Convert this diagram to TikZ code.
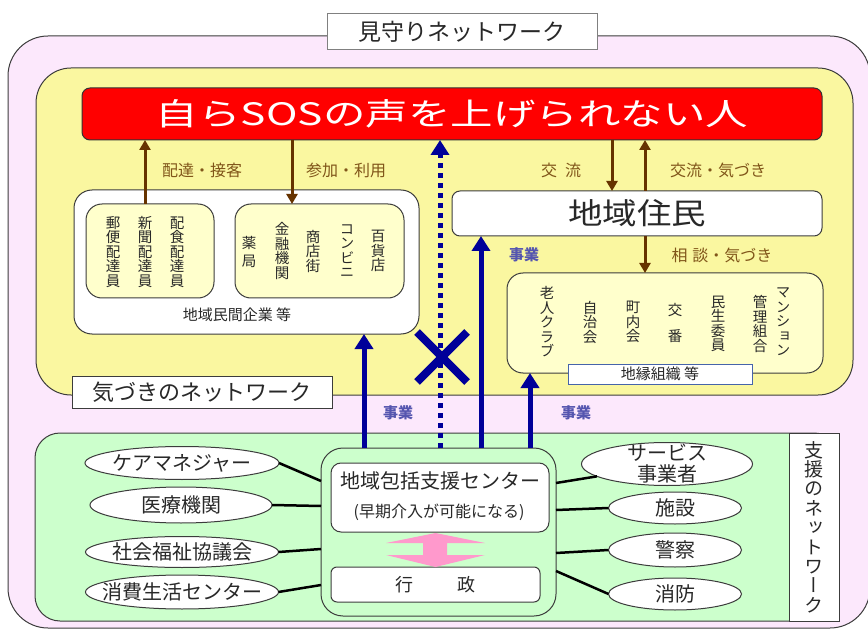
\documentclass[tikz,border=0pt]{standalone}
\usepackage{fontspec}
\usepackage{graphicx}
\setmainfont{Noto Sans CJK JP}
\newfontfamily\vfont[RawFeature=+vert]{Noto Sans CJK JP}
\usetikzlibrary{arrows.meta,shapes.geometric}
\newcommand{\myfs}[1]{\fontsize{#1}{#1}\selectfont}
\definecolor{pinkbg}{RGB}{252,232,252}
\definecolor{ylw}{RGB}{250,247,160}
\definecolor{lyel}{RGB}{255,255,204}
\definecolor{grn}{RGB}{204,255,204}
\definecolor{navy}{RGB}{0,0,153}
\definecolor{brn}{RGB}{102,51,0}
\definecolor{brntxt}{RGB}{128,85,25}
\definecolor{bluetxt}{RGB}{85,85,175}
\definecolor{pinkar}{RGB}{255,153,204}
\definecolor{txt}{RGB}{40,40,40}
\definecolor{edge}{RGB}{60,60,60}
\definecolor{bluegray}{RGB}{70,100,170}
\definecolor{myred}{RGB}{255,0,0}
\begin{document}
\begin{tikzpicture}[x=1pt,y=-1pt,
  every node/.style={inner sep=0pt, outer sep=0pt, text=txt},
  bx/.style={draw=edge, line width=1pt},
  vt/.style={font=\vfont\fontsize{14.5}{14.5}\selectfont, align=center},
  ell/.style={ellipse, draw=edge, fill=white, line width=1pt, font=\myfs{20}},
  brar/.style={draw=brn, line width=3pt, -{Triangle[width=11pt,length=10pt]}},
  blar/.style={draw=navy, line width=5pt, -{Triangle[width=18pt,length=15pt]}},
  conn/.style={draw=black, line width=2.5pt},
  brlbl/.style={font=\myfs{16}, text=brntxt},
  bllbl/.style={font=\bfseries\myfs{15}, text=bluetxt}]
\useasboundingbox (0,0) rectangle (868,631);
% outer
\node[bx, fill=pinkbg, rounded corners=40pt, minimum width=862pt, minimum height=592pt] (outer) at (439,332) {};
\node[draw=gray, line width=1pt, fill=white, minimum width=270pt, minimum height=36pt, font=\myfs{23}] (title) at (462,32) {見守りネットワーク};
% yellow network
\node[bx, fill=ylw, rounded corners=35pt, minimum width=817pt, minimum height=327pt] (yellow) at (444.5,231.5) {};
\node[bx, fill=myred, draw=black!80, rounded corners=8pt, minimum width=740pt, minimum height=52pt] (red) at (452,114) {\resizebox{592pt}{26pt}{\color{white}自らSOSの声を上げられない人}};
% private companies
\node[bx, fill=white, rounded corners=18pt, minimum width=345pt, minimum height=144pt] (minkan) at (246.5,262) {};
\node[font=\myfs{15}] (minkanlbl) at (237,315) {地域民間企業 等};
\node[bx, fill=lyel, rounded corners=16pt, minimum width=128pt, minimum height=94pt] (boxA) at (150,251) {};
\node[bx, fill=lyel, rounded corners=16pt, minimum width=169pt, minimum height=94pt] (boxB) at (319.5,251) {};
\node[vt] (yubin) at (113,252) {郵\\便\\配\\達\\員};
\node[vt] (shinbun) at (145,252) {新\\聞\\配\\達\\員};
\node[vt] (haishoku) at (177,252) {配\\食\\配\\達\\員};
\node[vt] (yakkyoku) at (249,252) {薬\\[3pt]局};
\node[vt] (kinyu) at (282,251) {金\\融\\機\\関};
\node[vt] (shoten) at (313,251) {商\\店\\街};
\node[vt] (konbini) at (347,251) {コ\\ン\\ビ\\ニ};
\node[vt] (hyakka) at (378,251) {百\\貨\\店};
% residents
\node[bx, fill=white, rounded corners=8pt, minimum width=370pt, minimum height=45pt] (juumin) at (637,213.5) {\resizebox{138pt}{25pt}{地域住民}};
\node[bx, fill=lyel, rounded corners=16pt, minimum width=316pt, minimum height=100pt] (chien) at (665,323) {};
\node[draw=bluegray, fill=white, line width=1pt, minimum width=184pt, minimum height=20pt, font=\myfs{15}] (chienlbl) at (660,374) {地縁組織 等};
\node[vt] (rojin) at (547,322) {老\\人\\ク\\ラ\\ブ};
\node[vt] (jichi) at (590,322) {自\\治\\会};
\node[vt] (chonai) at (633,322) {町\\内\\会};
\node[vt] (koban) at (675,323) {交\\[12pt]番};
\node[vt] (minsei) at (718,324) {民\\生\\委\\員};
\node[vt] (kanri) at (760,324) {管\\理\\組\\合};
\node[vt] (mansion) at (783,322) {マ\\ン\\シ\\ョ\\ン};
\node[bx, fill=white, minimum width=260pt, minimum height=32pt, font=\myfs{22}] (kizuki) at (202,392) {気づきのネットワーク};
% support network
\node[bx, fill=grn, rounded corners=25pt, minimum width=804pt, minimum height=188pt] (green) at (437,527) {};
\node[bx, fill=white, minimum width=50pt, minimum height=188pt, font=\vfont\fontsize{19}{19.4}\selectfont, align=center] (shien) at (814,527) {支\\援\\の\\ネ\\ッ\\ト\\ワ\\ー\\ク};
\node[bx, fill=grn, rounded corners=22pt, minimum width=235pt, minimum height=168pt] (houkatsu) at (438.5,532) {};
\node[bx, fill=white, rounded corners=10pt, minimum width=218pt, minimum height=69pt] (hkA) at (440,497.5) {};
\node[font=\myfs{20}] (hkt1) at (440,481) {地域包括支援センター};
\node[font=\myfs{16}] (hkt2) at (439,512) {(早期介入が可能になる)};
\node[bx, fill=white, rounded corners=6pt, minimum width=209pt, minimum height=35pt, font=\myfs{18}] (gyosei) at (435.5,584.5) {行\hspace{44pt}政};
\fill[pinkar] (435.5,533) -- (485,543) -- (447,543) -- (447,555) -- (485,555) -- (435.5,567) -- (386,555) -- (423,555) -- (423,543) -- (386,543) -- cycle;
% ellipses
\node[ell, minimum width=194pt, minimum height=33pt] (care) at (182,463) {\makebox[0pt]{ケアマネジャー}};
\node[ell, minimum width=182pt, minimum height=36pt] (iryo) at (181,505) {\makebox[0pt]{医療機関}};
\node[ell, minimum width=193pt, minimum height=31pt] (shakai) at (182,552) {\makebox[0pt]{社会福祉協議会}};
\node[ell, minimum width=193pt, minimum height=34pt] (shohi) at (182,592) {\makebox[0pt]{消費生活センター}};
\node[ell, minimum width=171pt, minimum height=43pt] (service) at (667,464) {};
\node[font=\fontsize{20}{21}\selectfont, align=center] (servicet) at (667,464) {サービス\\事業者};
\node[ell, minimum width=133pt, minimum height=32pt] (shisetsu) at (675,508) {\makebox[0pt]{施設}};
\node[ell, minimum width=133pt, minimum height=34pt] (keisatsu) at (675,550) {\makebox[0pt]{警察}};
\node[ell, minimum width=133pt, minimum height=32pt] (shobo) at (675,594) {\makebox[0pt]{消防}};
% connectors
\draw[conn] (care.east) -- ([yshift=51pt]houkatsu.west);
\draw[conn] (iryo.east) -- ([yshift=26pt]houkatsu.west);
\draw[conn] (shakai.east) -- ([yshift=-17pt]houkatsu.west);
\draw[conn] (shohi.east) -- ([yshift=-53pt]houkatsu.west);
\draw[conn] ([yshift=49pt]houkatsu.east) -- (service.190);
\draw[conn] ([yshift=22pt]houkatsu.east) -- (shisetsu.west);
\draw[conn] ([yshift=-21pt]houkatsu.east) -- (keisatsu.west);
\draw[conn] ([yshift=-39pt]houkatsu.east) -- (shobo.west);
% brown arrows
\coordinate (a1) at ([xshift=-5pt]boxA.north);
\coordinate (a2) at ([xshift=-27.5pt]boxB.north);
\coordinate (a3) at ([xshift=-25pt]juumin.north);
\coordinate (a4) at ([xshift=8pt]juumin.north);
\coordinate (a5) at ([xshift=8pt]juumin.south);
\draw[brar] (a1) -- (a1 |- red.south);
\draw[brar] (a2 |- red.south) -- (a2);
\draw[brar] (a3 |- red.south) -- (a3);
\draw[brar] (a4) -- (a4 |- red.south);
\draw[brar] (a5) -- (a5 |- chien.north);
\node[brlbl] (l1) at (202,170) {配達・接客};
\node[brlbl] (l2) at (346,170) {参加・利用};
\node[brlbl] (l3) at (561,170) {交\hspace{8pt}流};
\node[brlbl] (l4) at (718,170) {交流・気づき};
\node[brlbl] (l5) at (722,255) {相\hspace{5pt}談・気づき};
% blue arrows
\coordinate (b1) at ([xshift=-74.5pt]houkatsu.north);
\coordinate (b2) at ([xshift=1.5pt]houkatsu.north);
\coordinate (b3) at ([xshift=42.5pt]houkatsu.north);
\coordinate (b4) at ([xshift=91.5pt]houkatsu.north);
\draw[blar] (b1) -- (b1 |- minkan.south);
\draw[blar, dash pattern=on 5pt off 5pt] (b2) -- (b2 |- red.south);
\draw[blar] (b3) -- (b3 |- juumin.south);
\draw[blar] (b4) -- (b4 |- chien.south);
\coordinate (xm) at (442,357);
\draw[navy, line width=8pt] ([shift={(-25pt,-25pt)}]xm) -- ([shift={(25pt,25pt)}]xm);
\draw[navy, line width=8pt] ([shift={(-25pt,25pt)}]xm) -- ([shift={(25pt,-25pt)}]xm);
\node[bllbl] (j1) at (524,255) {事業};
\node[bllbl] (j2) at (398,413) {事業};
\node[bllbl] (j3) at (576,413) {事業};
\end{tikzpicture}
\end{document}
